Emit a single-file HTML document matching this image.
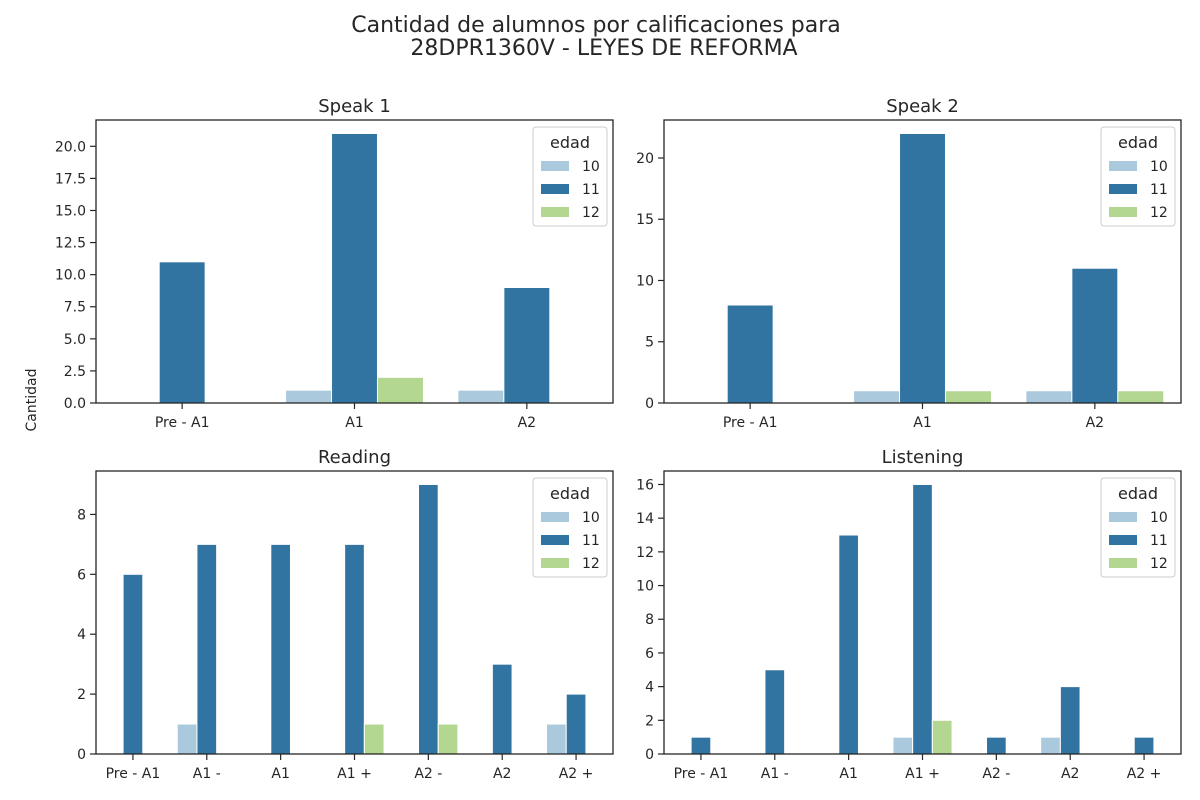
<!DOCTYPE html>
<html><head><meta charset="utf-8"><style>
body{margin:0;background:#fff}
svg{display:block;font-family:"DejaVu Sans","Liberation Sans",sans-serif}
</style></head><body>
<svg id="c" width="1200" height="800"></svg>
<script>
const colors=["#abc9dc","#3274a1","#b3d690"];
const hues=["10","11","12"];
const catsSpeak=["Pre - A1","A1","A2"];
const catsFull=["Pre - A1","A1 -","A1","A1 +","A2 -","A2","A2 +"];
const s1_10=[0,1,1], s1_11=[11,21,9], s1_12=[0,2,0];
const s2_10=[0,1,1], s2_11=[8,22,11], s2_12=[0,1,1];
const rd_10=[0,1,0,0,0,0,1], rd_11=[6,7,7,7,9,3,2], rd_12=[0,0,0,1,1,0,0];
const ls_10=[0,0,0,1,0,1,0], ls_11=[1,5,13,16,1,4,1], ls_12=[0,0,0,2,0,0,0];
const t1=[0,2.5,5,7.5,10,12.5,15,17.5,20], t2=[0,5,10,15,20], t3=[0,2,4,6,8], t4=[0,2,4,6,8,10,12,14,16];
const panels=[
 {name:"speak-1",title:"Speak 1",x:96,y:120,cats:catsSpeak,series:[s1_10,s1_11,s1_12],ticks:t1,fmt:v=>v.toFixed(1)},
 {name:"speak-2",title:"Speak 2",x:664,y:120,cats:catsSpeak,series:[s2_10,s2_11,s2_12],ticks:t2,fmt:v=>String(v)},
 {name:"reading",title:"Reading",x:96,y:471,cats:catsFull,series:[rd_10,rd_11,rd_12],ticks:t3,fmt:v=>String(v)},
 {name:"listening",title:"Listening",x:664,y:471,cats:catsFull,series:[ls_10,ls_11,ls_12],ticks:t4,fmt:v=>String(v)}
];
const NS="http://www.w3.org/2000/svg";
const svg=document.getElementById('c');
function mk(tag,attrs,parent,text){const e=document.createElementNS(NS,tag);for(const k in attrs)e.setAttribute(k,attrs[k]);if(text!==undefined)e.textContent=text;(parent||svg).appendChild(e);return e;}
let t=mk('text',{x:596,y:32,'text-anchor':'middle','font-size':22,fill:'#262626'},svg,'Cantidad de alumnos por calificaciones para');


t=mk('text',{x:604,y:55,'text-anchor':'middle','font-size':22,fill:'#262626'},svg,'28DPR1360V - LEYES DE REFORMA');


t=mk('text',{x:36,y:400,'text-anchor':'middle','font-size':14,fill:'#262626',transform:'rotate(-90 36 400)'},svg,'Cantidad');


const W=517,H=283;
panels.forEach(p=>{
 const g=mk('g',{});
 
 
 let ymax=0;p.series.forEach(s=>s.forEach(v=>ymax=Math.max(ymax,v)));ymax*=1.05;
 const ys=v=>p.y+H-v/ymax*H;
 const band=W/p.cats.length, bw=band*0.8/3;
 const xs=(i,h)=>p.x+band*i+band*0.1+bw*h;
 p.series.forEach((s,h)=>s.forEach((v,i)=>{
  if(v<=0)return;
  const r=mk('rect',{x:xs(i,h),y:ys(v),width:bw,height:ys(0)-ys(v),fill:colors[h],stroke:'#fff','stroke-width':1},g);
  
  
 }));
 p.ticks.forEach(v=>{
  const yy=ys(v);
  mk('line',{x1:p.x-6,x2:p.x,y1:yy,y2:yy,stroke:'#262626','stroke-width':1.2},g);
  const l=mk('text',{x:p.x-10,y:yy+5,'text-anchor':'end','font-size':14,fill:'#262626'},g,p.fmt(v));
  
  
 });
 p.cats.forEach((c,i)=>{
  const xx=p.x+band*(i+0.5);
  mk('line',{x1:xx,x2:xx,y1:p.y+H,y2:p.y+H+6,stroke:'#262626','stroke-width':1.2},g);
  const l=mk('text',{x:xx,y:p.y+H+24,'text-anchor':'middle','font-size':14,fill:'#262626'},g,c);
  
  
 });
 const fr=mk('rect',{x:p.x,y:p.y,width:W,height:H,fill:'none',stroke:'#262626','stroke-width':1.3},g);
 
 
 const tt=mk('text',{x:p.x+W/2,y:p.y-8,'text-anchor':'middle','font-size':18,fill:'#262626'},g,p.title);
 
 
 const lg=mk('g',{},g);
 
 
 const lx=p.x+W-80,ly=p.y+7;
 mk('rect',{x:lx,y:ly,width:74,height:99,rx:3,fill:'#fff',stroke:'#ccc','stroke-width':1},lg);
 mk('text',{x:lx+37,y:ly+21,'text-anchor':'middle','font-size':16,fill:'#262626'},lg,'edad');
 hues.forEach((h,k)=>{
  const e=mk('g',{},lg);
  
  
  mk('rect',{x:lx+8,y:ly+34+k*23,width:28,height:10,fill:colors[k]},e);
  mk('text',{x:lx+49,y:ly+44+k*23,'font-size':14,fill:'#262626'},e,h);
 });
});
</script>
</body></html>
